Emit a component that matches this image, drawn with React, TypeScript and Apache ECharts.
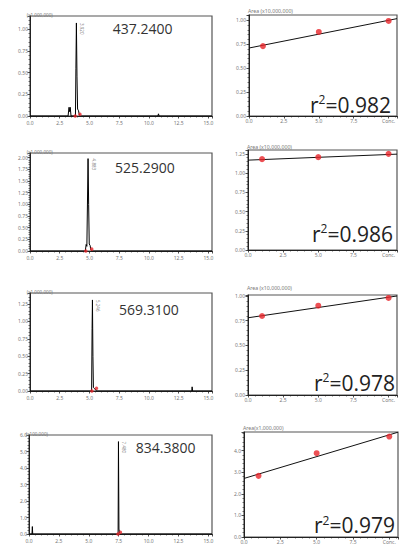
import React, { useEffect, useRef } from 'react';
import * as echarts from 'echarts';

const W = 407;
const H = 544;

// ---------- data ----------
const mzLabels = ['437.2400', '525.2900', '569.3100', '834.3800'];
const chromScales = ['(x1,000,000)', '(x1,000,000)', '(x1,000,000)', '(x100,000)'];
const areaScales = ['Area (x10,000,000)', 'Area (x10,000,000)', 'Area (x10,000,000)', 'Area(x1,000,000)'];
const peakLabels = ['3.920', '4.883', '5.246', '7.480'];
const r2Values = ['0.982', '0.986', '0.978', '0.979'];

// chromatogram traces [time (min), intensity]
const trace1 = [[0, 0], [3.2, 0], [3.28, 0.1], [3.33, 0.05], [3.38, 0.1], [3.45, 0], [3.82, 0], [3.86, 0.55], [3.9, 1.07], [3.95, 0.45], [4.0, 0.08], [4.08, 0.06], [4.15, 0.01], [4.25, 0], [10.75, 0], [10.8, 0.025], [10.85, 0], [15.3, 0]];
const trace2 = [[0, 0], [4.65, 0], [4.72, 0.14], [4.78, 0.1], [4.84, 1.2], [4.88, 1.98], [4.93, 1.0], [4.98, 0.15], [5.05, 0.12], [5.12, 0.02], [5.2, 0], [15.3, 0]];
const trace3 = [[0, 0], [5.18, 0], [5.22, 0.9], [5.25, 1.31], [5.29, 0.5], [5.33, 0.05], [5.45, 0.03], [5.55, 0.01], [5.6, 0], [13.6, 0], [13.63, 0.06], [13.67, 0], [15.3, 0]];
const trace4 = [[0, 0], [0.25, 0], [0.28, 0.45], [0.31, 0], [7.45, 0], [7.48, 5.6], [7.52, 0.3], [7.58, 0.05], [7.65, 0], [15.3, 0]];
const traces = [trace1, trace2, trace3, trace4];

// integration start / end markers
const marks1 = [[3.8, 0], [4.2, 0.02]];
const marks2 = [[4.69, 0], [5.19, 0.04]];
const marks3 = [[5.2, 0], [5.59, 0.04]];
const marks4 = [[7.44, 0], [7.64, 0.1]];
const marks = [marks1, marks2, marks3, marks4];

const peakTops = [[3.9, 1.07], [4.88, 1.98], [5.25, 1.31], [7.48, 5.6]];

// calibration
const calConc = [1, 5, 10];
const calArea1 = [0.73, 0.878, 0.993];
const calArea2 = [1.181, 1.207, 1.25];
const calArea3 = [0.798, 0.902, 0.98];
const calArea4 = [2.83, 3.88, 4.65];
const calAreas = [calArea1, calArea2, calArea3, calArea4];
const fitX = [0, 10.6];
const fit1 = [0.71, 1.017];
const fit2 = [1.168, 1.246];
const fit3 = [0.78, 1.0];
const fit4 = [2.71, 4.85];
const fits = [fit1, fit2, fit3, fit4];

// axis ranges
const chromYMax = [1.15, 2.1, 1.41, 6.0];
const chromYInt = [0.25, 0.25, 0.25, 1.0];
const calYMax = [1.055, 1.3, 1.01, 4.86];
const calYInt = [0.25, 0.25, 0.25, 1.0];

// ---------- layout ----------
const leftGrids = [
  { left: 30, top: 16, width: 182, height: 100 },
  { left: 30, top: 153, width: 182, height: 98 },
  { left: 30, top: 293, width: 182, height: 98 },
  { left: 29, top: 435, width: 183, height: 99 },
];
const rightGrids = [
  { left: 249, top: 15, width: 148, height: 101 },
  { left: 248, top: 150, width: 149, height: 100 },
  { left: 248, top: 295, width: 149, height: 100 },
  { left: 244, top: 432, width: 154, height: 105 },
];
const mzPos = [[112.7, 28.5], [115, 167], [119, 309.5], [135.7, 447.3]];
const r2Pos = [[391, 104.5], [393, 233.8], [395, 382.5], [395, 525]];
const areaLabelY = [11, 146.7, 288, 428];

const FONT = 'Open Sans';
const SMALL = 'Noto Sans';

const fmt = (interval: number, dec: number) => (v: number) => {
  const k = v / interval;
  return Math.abs(k - Math.round(k)) < 1e-6 ? v.toFixed(dec) : '';
};

function buildOption() {
  const grid: any[] = [];
  const xAxis: any[] = [];
  const yAxis: any[] = [];
  const series: any[] = [];
  const graphic: any[] = [];

  const axisCommon = {
    axisLine: { show: true, lineStyle: { color: '#222', width: 1 } },
    axisTick: { show: true, length: 2.5, lineStyle: { color: '#222', width: 0.8 } },
    minorTick: { show: true, splitNumber: 5, length: 1.5, lineStyle: { color: '#222', width: 0.6 } },
    splitLine: { show: false },
    minorSplitLine: { show: false },
  };
  const labelStyle = { fontSize: 5, color: '#777', fontFamily: SMALL };

  for (let i = 0; i < 4; i++) {
    const lg = leftGrids[i];
    const rg = rightGrids[i];
    grid.push({ ...lg, show: true, borderColor: '#555', borderWidth: 1.2, backgroundColor: '#fff' });
    grid.push({ ...rg, show: true, borderColor: '#555', borderWidth: 1.2, backgroundColor: '#fff' });
    const gl = 2 * i;
    const gr = 2 * i + 1;

    xAxis.push({
      type: 'value', gridIndex: gl, min: 0, max: 15.3, interval: 2.5, offset: 2,
      ...axisCommon,
      axisLabel: { ...labelStyle, margin: 2, formatter: fmt(2.5, 1) },
    });
    yAxis.push({
      type: 'value', gridIndex: gl, min: 0, max: chromYMax[i], interval: chromYInt[i],
      ...axisCommon,
      axisLabel: { ...labelStyle, margin: 2, formatter: fmt(chromYInt[i], chromYInt[i] < 1 ? 2 : 1) },
    });
    xAxis.push({
      type: 'value', gridIndex: gr, min: 0, max: 10.6, interval: 2.5,
      ...axisCommon,
      axisLabel: {
        ...labelStyle, margin: 2,
        formatter: (v: number) => (Math.abs(v - 10) < 1e-6 ? 'Conc.' : fmt(2.5, 1)(v)),
      },
    });
    yAxis.push({
      type: 'value', gridIndex: gr, min: 0, max: calYMax[i], interval: calYInt[i],
      ...axisCommon,
      axisLabel: { ...labelStyle, margin: 3, formatter: fmt(calYInt[i], calYInt[i] < 1 ? 2 : 1) },
    });

    series.push({
      type: 'line', xAxisIndex: gl, yAxisIndex: gl, data: traces[i], symbol: 'none',
      lineStyle: { color: '#000', width: 1 }, z: 3,
    });
    series.push({
      type: 'scatter', xAxisIndex: gl, yAxisIndex: gl, data: marks[i], symbol: 'circle', symbolSize: 3.5,
      itemStyle: { color: '#e8262a' }, z: 4,
    });
    series.push({
      type: 'scatter', xAxisIndex: gl, yAxisIndex: gl, data: [peakTops[i]], symbolSize: 0, z: 5,
      label: {
        show: true, formatter: peakLabels[i], position: 'right', distance: 1.5, rotate: -90,
        offset: [0, -4], fontSize: 4.5, color: '#666', fontFamily: SMALL,
      },
    });

    series.push({
      type: 'line', xAxisIndex: gr, yAxisIndex: gr,
      data: [[fitX[0], fits[i][0]], [fitX[1], fits[i][1]]], symbol: 'none',
      lineStyle: { color: '#111', width: 1 }, z: 3,
    });
    series.push({
      type: 'scatter', xAxisIndex: gr, yAxisIndex: gr,
      data: calConc.map((c, j) => [c, calAreas[i][j]]), symbol: 'circle', symbolSize: 6,
      itemStyle: { color: '#e8262a' }, z: 4,
    });

    graphic.push({
      type: 'text', x: mzPos[i][0], y: mzPos[i][1],
      style: { text: mzLabels[i], fontSize: 14, fontFamily: FONT, fill: '#333', verticalAlign: 'middle', align: 'left' },
      z: 10,
    });
    graphic.push({
      type: 'text', x: r2Pos[i][0], y: r2Pos[i][1],
      style: {
        text: '{a|r}{b|2}{a|=' + r2Values[i] + '}',
        align: 'right', verticalAlign: 'middle',
        rich: {
          a: { fontSize: 21, fontFamily: FONT, fill: '#222', lineHeight: 22 },
          b: { fontSize: 12, fontFamily: FONT, fill: '#222', verticalAlign: 'top', lineHeight: 12 },
        },
      },
      z: 10,
    });
    graphic.push({
      type: 'text', x: lg.left - 3.3, y: lg.top - 1.5,
      style: { text: chromScales[i], fontSize: 4.6, fontFamily: SMALL, fill: '#777', verticalAlign: 'middle' },
      z: 10,
    });
    graphic.push({
      type: 'text', x: rg.left - 1, y: areaLabelY[i],
      style: { text: areaScales[i], fontSize: 5.2, fontFamily: SMALL, fill: '#777', verticalAlign: 'middle' },
      z: 10,
    });
  }

  return { animation: false, backgroundColor: '#fff', grid, xAxis, yAxis, series, graphic };
}

export default function App() {
  const ref = useRef<HTMLDivElement>(null);
  useEffect(() => {
    if (!ref.current) return;
    const chart = echarts.init(ref.current, null, { renderer: 'svg' });
    chart.setOption(buildOption() as any);
    return () => chart.dispose();
  }, []);
  return (
    <div
      ref={ref}
      style={{ position: 'absolute', left: 0, top: 0, width: W, height: H, background: '#fff' }}
    />
  );
}
